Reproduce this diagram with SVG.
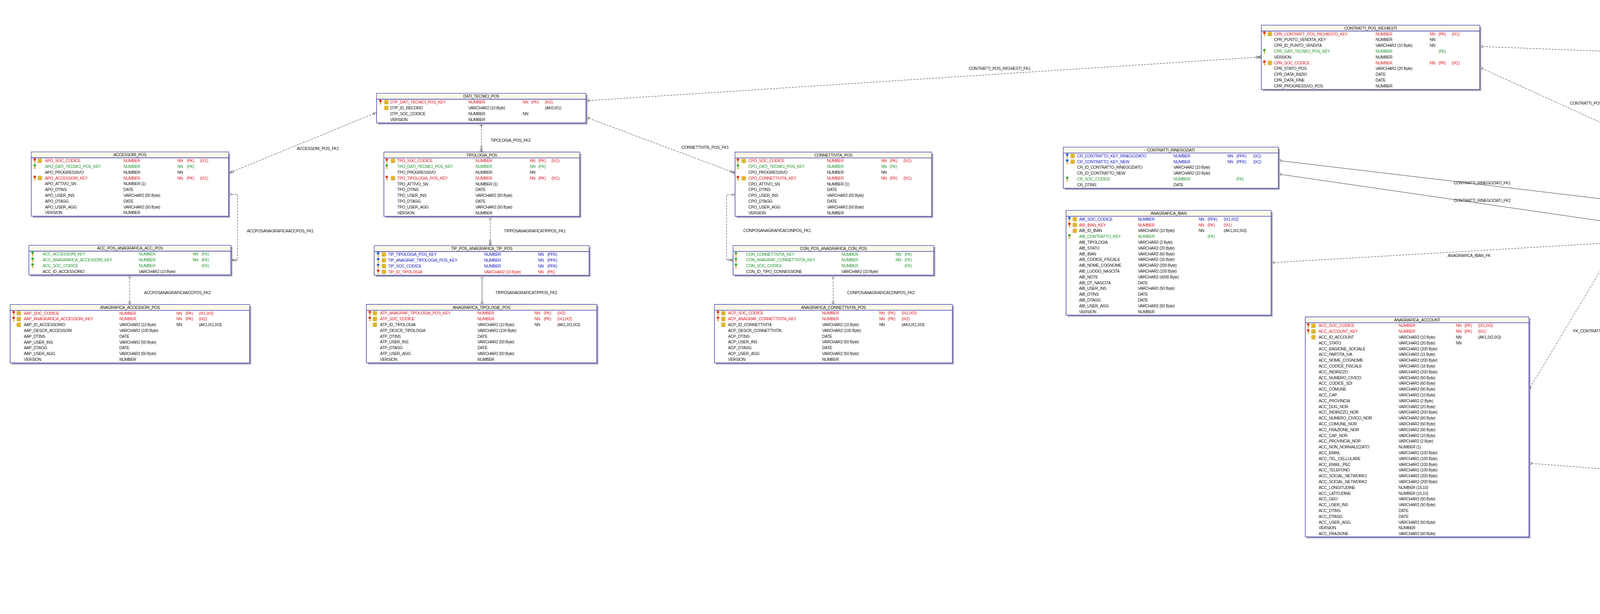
<svg xmlns="http://www.w3.org/2000/svg" width="6168" height="1572" viewBox="0 0 6168 1572">
<defs>
<style>
.t{font-family:"Liberation Sans",Arial,sans-serif;font-size:10.5px;letter-spacing:-0.45px;fill:#1a1a1a}
.m{text-anchor:middle}
.r{fill:#e0232b}.g{fill:#2a9a35}.b{fill:#2323c6}
.bx{fill:#fff;stroke:#25259c;stroke-width:1.3}
.hd{fill:#fbf8e9}
.sh{fill:#a3a3b8}
.ln{stroke:#25259c;stroke-width:1.3;fill:none}
.c{fill:none;stroke:#333;stroke-width:1}
.d{stroke-dasharray:5 3}
</style>
<g id="kr"><path d="M-1.1 -0.5V6.3H1.1V5H2.8V3.6H1.1V-0.5Z" fill="#d4a21c"/><circle cy="-3" r="3.3" fill="#e03a20"/></g>
<g id="kg"><path d="M-1.1 -0.5V6.3H1.1V5H2.8V3.6H1.1V-0.5Z" fill="#d4a21c"/><circle cy="-3" r="3.3" fill="#44ad3c"/></g>
<g id="kb"><path d="M-1.1 -0.5V6.3H1.1V5H2.8V3.6H1.1V-0.5Z" fill="#d4a21c"/><circle cy="-3" r="3.3" fill="#3463d2"/></g>
<g id="ix"><rect x="-5" y="-5" width="10" height="10" rx="1" fill="#f3c63a" stroke="#b58a12" stroke-width=".8"/><path d="M-3 -1.7H3M-3 .7H3M-3 3H3M0 -3.3V4" stroke="#b58a12" stroke-width=".6"/></g>
<marker id="mo" viewBox="-10 -5 11 10" refX="0" refY="0" markerWidth="11" markerHeight="10" markerUnits="userSpaceOnUse" orient="auto-start-reverse"><circle cx="-5" cy="0" r="2.6" fill="#fff" stroke="#333"/></marker>
<marker id="mc" viewBox="-17 -6 18 12" refX="0" refY="0" markerWidth="18" markerHeight="12" markerUnits="userSpaceOnUse" orient="auto-start-reverse"><path d="M-8 0L0 -4.5M-8 0L0 4.5M-8 0H0" fill="none" stroke="#333"/><circle cx="-11" cy="0" r="2.6" fill="#fff" stroke="#333"/></marker>
<marker id="mb" viewBox="-12 -6 13 12" refX="0" refY="0" markerWidth="13" markerHeight="12" markerUnits="userSpaceOnUse" orient="auto-start-reverse"><path d="M-7 -5V5M-11 0H0" stroke="#333" fill="none"/></marker>
</defs>
<rect width="6168" height="1572" fill="#fff"/>

<g id="connectors">
<path class="c d" d="M964 288L585 443.6" marker-start="url(#mb)" marker-end="url(#mc)"/>
<text class="t" x="760" y="384">ACCESSORI_POS_FK1</text>
<path class="c d" d="M585 497.6H608V666H591" marker-start="url(#mo)" marker-end="url(#mc)"/>
<text class="t" x="632" y="595">ACCPOSANAGRAFICAACCPOS_FK1</text>
<path class="c d" d="M332 703.5V779.6" marker-start="url(#mo)" marker-end="url(#mo)"/>
<text class="t" x="368.7" y="752.5">ACCPOSANAGRAFICAACCPOS_FK2</text>
<path class="c d" d="M1232.3 314V389.3" marker-start="url(#mb)" marker-end="url(#mc)"/>
<text class="t" x="1256" y="362.5">TIPOLOGIA_POS_FK2</text>
<path class="c d" d="M1255 553.8V629" marker-start="url(#mo)" marker-end="url(#mc)"/>
<text class="t" x="1290" y="595">TIPPOSANAGRAFICATIPPOS_FK1</text>
<path class="c" d="M1234 704.7V779.3" marker-start="url(#mo)" marker-end="url(#mo)"/>
<text class="t" x="1268.3" y="752.5">TIPPOSANAGRAFICATIPPOS_FK2</text>
<path class="c d" d="M1500 300L1881.7 443" marker-start="url(#mb)" marker-end="url(#mc)"/>
<text class="t" x="1745" y="381">CONNETTIVITA_POS_FK1</text>
<path class="c d" d="M1881.7 498.4H1860V665.6H1876.7" marker-start="url(#mo)" marker-end="url(#mc)"/>
<text class="t" x="1903" y="594">CONPOSANAGRAFICACONPOS_FK1</text>
<path class="c d" d="M2132.8 704.3V779.4" marker-start="url(#mo)" marker-end="url(#mo)"/>
<text class="t" x="2168.6" y="752.5">CONPOSANAGRAFICACONPOS_FK2</text>
<path class="c d" d="M1500 258L3229 146" marker-start="url(#mb)" marker-end="url(#mc)"/>
<text class="t" x="2480" y="179">CONTRATTI_POS_RICHIESTI_FK1</text>
<path class="c d" d="M3788 119L5337.6 178" marker-start="url(#mo)" marker-end="url(#mc)"/>
<text class="t" x="4584" y="159">SERVIZI_POS_FK2</text>
<path class="c d" d="M3788 172.6L4157.5 341" marker-start="url(#mo)" marker-end="url(#mc)"/>
<text class="t" x="4019" y="268">CONTRATTI_POS_RICHIESTI_CONTRATTI_FK1</text>
<path class="c d" d="M4412 379.6V454.8" marker-start="url(#mo)" marker-end="url(#mo)"/>
<text class="t" x="4458.7" y="427.5">CONTRATTI_POS_RICHIESTI_CONTRATTI_FK2</text>
<path class="c" d="M3272.4 410.9L4105.4 509.7" marker-start="url(#mo)" marker-end="url(#mo)"/>
<text class="t" x="3721.7" y="472">CONTRATTI_RINEGOZIATI_FK1</text>
<path class="c" d="M3272.4 445.6L4105.4 566.5" marker-start="url(#mo)" marker-end="url(#mo)"/>
<text class="t" x="3721.7" y="517">CONTRATTI_RINEGOZIATI_FK2</text>
<path class="c d" d="M3254 672.7L4105.4 622.7" marker-start="url(#mo)" marker-end="url(#mo)"/>
<text class="t" x="3706" y="658">ANAGRAFICA_IBAN_FK</text>
<path class="c d" d="M3914 998L4105.4 679" marker-start="url(#mo)" marker-end="url(#mc)"/>
<text class="t" x="4027.5" y="850.5">FK_CONTRATTI</text>
<path class="c d" d="M4412 737.7L4451 811.5" marker-start="url(#mo)" marker-end="url(#mo)"/>
<text class="t" x="4475" y="784">CONTRATTI_EMETTITORI_DICHIARATI_FK1</text>
<path class="c d" d="M4714 886L4947 1050" marker-start="url(#mo)" marker-end="url(#mo)"/>
<text class="t" x="4879" y="972.5">CONTRATTI_EMETTITORI_DICHIARATI_FK2</text>
<path class="c" d="M4718.6 548L5647 683.6" marker-start="url(#mo)" marker-end="url(#mc)"/>
<text class="t" x="5200" y="610">PUNTI_VENDITA_CONTRATTI_FK1</text>
<path class="c d" d="M4718.6 641L5168.6 916.7" marker-start="url(#mo)" marker-end="url(#mc)"/>
<text class="t" x="4955" y="776">CONTRATTI_PV_EMETTITORI_DICHIARATI_FK1</text>
<path class="c d" d="M5370 1030L5199.2 1130" marker-start="url(#mo)" marker-end="url(#mo)"/>
<text class="t" x="5337.6" y="1097">CONTRATTI_PV_EMETTITORI_DICHIARATI_FK2</text>
<path class="c d" d="M5571 1030L5735 1096" marker-start="url(#mo)" marker-end="url(#mc)"/>
<text class="t" x="5700" y="1072.5">CONTRATTI_PV_EMETTITORI_DICHIARATI_FK3</text>
<path class="c d" d="M3914 1186L5540.4 1310" marker-start="url(#mo)" marker-end="url(#mc)"/>
<text class="t" x="4762" y="1258.5">FK1_ANAGRAFICA_PUNTI_VENDITA</text>
<path class="c" d="M5887.6 743.8V1096" marker-start="url(#mc)" marker-end="url(#mo)"/>
<text class="t" x="5900" y="930">PUNTI_VENDITA_CONTRATTI_FK2</text>
<path class="c" d="M5951 176.3H5968V454.7H5946.4" marker-start="url(#mc)" marker-end="url(#mo)"/>
<text class="t" x="5981" y="327.5">SERVIZI_POS_FK</text>
</g>

<g id="t-accessori-pos" transform="translate(80,389)">
<rect class="sh" x="4" y="4" width="505" height="164.5"/><rect class="bx" width="505" height="164.5"/><rect class="hd" x=".7" y=".7" width="503.6" height="14.3"/><path class="ln" d="M0 15H505"/>
<text class="t m" x="252.5" y="11.3">ACCESSORI_POS</text>
<use href="#kr" x="9" y="22.4"/><use href="#ix" x="22" y="22.4"/>
<text class="t r" y="26.1"><tspan x="35">APO_SOC_CODICE</tspan><tspan x="236">NUMBER</tspan><tspan x="374">NN</tspan><tspan x="398">(PK)</tspan><tspan x="432">(IX1)</tspan></text>
<use href="#kg" x="9" y="37.2"/>
<text class="t g" y="40.9"><tspan x="35">APO_DATI_TECNICI_POS_KEY</tspan><tspan x="236">NUMBER</tspan><tspan x="374">NN</tspan><tspan x="398">(FK)</tspan></text>
<text class="t" y="55.7"><tspan x="35">APO_PROGRESSIVO</tspan><tspan x="236">NUMBER</tspan><tspan x="374">NN</tspan></text>
<use href="#kr" x="9" y="66.8"/><use href="#ix" x="22" y="66.8"/>
<text class="t r" y="70.5"><tspan x="35">APO_ACCESSORI_KEY</tspan><tspan x="236">NUMBER</tspan><tspan x="374">NN</tspan><tspan x="398">(PK)</tspan><tspan x="432">(IX1)</tspan></text>
<text class="t" y="85.3"><tspan x="35">APO_ATTIVO_SN</tspan><tspan x="236">NUMBER (1)</tspan></text>
<text class="t" y="100.1"><tspan x="35">APO_DTINS</tspan><tspan x="236">DATE</tspan></text>
<text class="t" y="114.9"><tspan x="35">APO_USER_INS</tspan><tspan x="236">VARCHAR2 (50 Byte)</tspan></text>
<text class="t" y="129.7"><tspan x="35">APO_DTAGG</tspan><tspan x="236">DATE</tspan></text>
<text class="t" y="144.5"><tspan x="35">APO_USER_AGG</tspan><tspan x="236">VARCHAR2 (50 Byte)</tspan></text>
<text class="t" y="159.3"><tspan x="35">VERSION</tspan><tspan x="236">NUMBER</tspan></text>
</g>

<g id="t-acc-pos-anagrafica-acc-pos" transform="translate(74,628)">
<rect class="sh" x="4" y="4" width="517" height="75.7"/><rect class="bx" width="517" height="75.7"/><rect class="hd" x=".7" y=".7" width="515.6" height="14.3"/><path class="ln" d="M0 15H517"/>
<text class="t m" x="258.5" y="11.3">ACC_POS_ANAGRAFICA_ACC_POS</text>
<use href="#kg" x="9.5" y="22.4"/><text class="t g" y="26.1"><tspan x="35">ACC_ACCESSORI_KEY</tspan><tspan x="281">NUMBER</tspan><tspan x="419">NN</tspan><tspan x="442">(FK)</tspan></text>
<use href="#kg" x="9.5" y="37.2"/><text class="t g" y="40.9"><tspan x="35">ACC_ANAGRAFICA_ACCESSORI_KEY</tspan><tspan x="281">NUMBER</tspan><tspan x="419">NN</tspan><tspan x="442">(FK)</tspan></text>
<use href="#kg" x="9.5" y="52"/><text class="t g" y="55.7"><tspan x="35">ACC_SOC_CODICE</tspan><tspan x="281">NUMBER</tspan><tspan x="442">(FK)</tspan></text>
<text class="t" y="70.5"><tspan x="35">ACC_ID_ACCESSORIO</tspan><tspan x="281">VARCHAR2 (10 Byte)</tspan></text>
</g>

<g id="t-anagrafica-accessori-pos" transform="translate(26,779.6)">
<rect class="sh" x="4" y="4" width="613" height="149.7"/><rect class="bx" width="613" height="149.7"/><rect class="hd" x=".7" y=".7" width="611.6" height="14.3"/><path class="ln" d="M0 15H613"/>
<text class="t m" x="306.5" y="11.3">ANAGRAFICA_ACCESSORI_POS</text>
<use href="#kr" x="9" y="22.4"/><use href="#ix" x="22" y="22.4"/>
<text class="t r" y="26.1"><tspan x="35">AAP_SOC_CODICE</tspan><tspan x="279.5">NUMBER</tspan><tspan x="425.6">NN</tspan><tspan x="449">(PK)</tspan><tspan x="483">(IX1,IX2)</tspan></text>
<use href="#kr" x="9" y="37.2"/><use href="#ix" x="22" y="37.2"/>
<text class="t r" y="40.9"><tspan x="35">AAP_ANAGRAFICA_ACCESSORI_KEY</tspan><tspan x="279.5">NUMBER</tspan><tspan x="425.6">NN</tspan><tspan x="449">(PK)</tspan><tspan x="483">(IX2)</tspan></text>
<use href="#ix" x="22" y="52"/>
<text class="t" y="55.7"><tspan x="35">AAP_ID_ACCESSORIO</tspan><tspan x="279.5">VARCHAR2 (10 Byte)</tspan><tspan x="425.6">NN</tspan><tspan x="483">(AK1,IX1,IX3)</tspan></text>
<text class="t" y="70.5"><tspan x="35">AAP_DESCR_ACCESSORI</tspan><tspan x="279.5">VARCHAR2 (100 Byte)</tspan></text>
<text class="t" y="85.3"><tspan x="35">AAP_DTINS</tspan><tspan x="279.5">DATE</tspan></text>
<text class="t" y="100.1"><tspan x="35">AAP_USER_INS</tspan><tspan x="279.5">VARCHAR2 (50 Byte)</tspan></text>
<text class="t" y="114.9"><tspan x="35">AAP_DTAGG</tspan><tspan x="279.5">DATE</tspan></text>
<text class="t" y="129.7"><tspan x="35">AAP_USER_AGG</tspan><tspan x="279.5">VARCHAR2 (50 Byte)</tspan></text>
<text class="t" y="144.5"><tspan x="35">VERSION</tspan><tspan x="279.5">NUMBER</tspan></text>
</g>

<g id="t-dati-tecnici-pos" transform="translate(964,239)">
<rect class="sh" x="4" y="4" width="536" height="75.7"/><rect class="bx" width="536" height="75.7"/><rect class="hd" x=".7" y=".7" width="534.6" height="14.3"/><path class="ln" d="M0 15H536"/>
<text class="t m" x="268" y="11.3">DATI_TECNICI_POS</text>
<use href="#kr" x="10" y="22.4"/><use href="#ix" x="25" y="22.4"/>
<text class="t r" y="26.1"><tspan x="35">DTP_DATI_TECNICI_POS_KEY</tspan><tspan x="235">NUMBER</tspan><tspan x="374">NN</tspan><tspan x="396">(PK)</tspan><tspan x="431">(IX2)</tspan></text>
<use href="#ix" x="25" y="37.2"/>
<text class="t" y="40.9"><tspan x="35">DTP_ID_RECORD</tspan><tspan x="235">VARCHAR2 (10 Byte)</tspan><tspan x="431">(AK0,IX1)</tspan></text>
<text class="t" y="55.7"><tspan x="35">DTP_SOC_CODICE</tspan><tspan x="235">NUMBER</tspan><tspan x="374">NN</tspan></text>
<text class="t" y="70.5"><tspan x="35">VERSION</tspan><tspan x="235">NUMBER</tspan></text>
</g>

<g id="t-tipologia-pos" transform="translate(982.7,389.3)">
<rect class="sh" x="4" y="4" width="501.3" height="164.5"/><rect class="bx" width="501.3" height="164.5"/><rect class="hd" x=".7" y=".7" width="499.9" height="14.3"/><path class="ln" d="M0 15H501.3"/>
<text class="t m" x="250.6" y="11.3">TIPOLOGIA_POS</text>
<use href="#kr" x="7.3" y="22.4"/><use href="#ix" x="23.3" y="22.4"/>
<text class="t r" y="26.1"><tspan x="34">TPO_SOC_CODICE</tspan><tspan x="234.6">NUMBER</tspan><tspan x="373.3">NN</tspan><tspan x="395.3">(PK)</tspan><tspan x="429">(IX1)</tspan></text>
<use href="#kg" x="7.3" y="37.2"/>
<text class="t g" y="40.9"><tspan x="34">TPO_DATI_TECNICI_POS_KEY</tspan><tspan x="234.6">NUMBER</tspan><tspan x="373.3">NN</tspan><tspan x="395.3">(FK)</tspan></text>
<text class="t" y="55.7"><tspan x="34">TPO_PROGRESSIVO</tspan><tspan x="234.6">NUMBER</tspan><tspan x="373.3">NN</tspan></text>
<use href="#kr" x="7.3" y="66.8"/><use href="#ix" x="23.3" y="66.8"/>
<text class="t r" y="70.5"><tspan x="34">TPO_TIPOLOGIA_POS_KEY</tspan><tspan x="234.6">NUMBER</tspan><tspan x="373.3">NN</tspan><tspan x="395.3">(PK)</tspan><tspan x="429">(IX1)</tspan></text>
<text class="t" y="85.3"><tspan x="34">TPO_ATTIVO_SN</tspan><tspan x="234.6">NUMBER (1)</tspan></text>
<text class="t" y="100.1"><tspan x="34">TPO_DTINS</tspan><tspan x="234.6">DATE</tspan></text>
<text class="t" y="114.9"><tspan x="34">TPO_USER_INS</tspan><tspan x="234.6">VARCHAR2 (50 Byte)</tspan></text>
<text class="t" y="129.7"><tspan x="34">TPO_DTAGG</tspan><tspan x="234.6">DATE</tspan></text>
<text class="t" y="144.5"><tspan x="34">TPO_USER_AGG</tspan><tspan x="234.6">VARCHAR2 (50 Byte)</tspan></text>
<text class="t" y="159.3"><tspan x="34">VERSION</tspan><tspan x="234.6">NUMBER</tspan></text>
</g>

<g id="t-tip-pos-anagrafica-tip-pos" transform="translate(958,629)">
<rect class="sh" x="4" y="4" width="550" height="75.7"/><rect class="bx" width="550" height="75.7"/><rect class="hd" x=".7" y=".7" width="548.6" height="14.3"/><path class="ln" d="M0 15H550"/>
<text class="t m" x="275" y="11.3">TIP_POS_ANAGRAFICA_TIP_POS</text>
<use href="#kb" x="10" y="22.4"/><use href="#ix" x="24.7" y="22.4"/>
<text class="t b" y="26.1"><tspan x="35.3">TIP_TIPOLOGIA_POS_KEY</tspan><tspan x="281.3">NUMBER</tspan><tspan x="419.3">NN</tspan><tspan x="443">(PFK)</tspan></text>
<use href="#kb" x="10" y="37.2"/><use href="#ix" x="24.7" y="37.2"/>
<text class="t b" y="40.9"><tspan x="35.3">TIP_ANAGRAF_TIPOLOGIA_POS_KEY</tspan><tspan x="281.3">NUMBER</tspan><tspan x="419.3">NN</tspan><tspan x="443">(PFK)</tspan></text>
<use href="#kb" x="10" y="52"/><use href="#ix" x="24.7" y="52"/>
<text class="t b" y="55.7"><tspan x="35.3">TIP_SOC_CODICE</tspan><tspan x="281.3">NUMBER</tspan><tspan x="419.3">NN</tspan><tspan x="443">(PFK)</tspan></text>
<use href="#kr" x="10" y="66.8"/><use href="#ix" x="24.7" y="66.8"/>
<text class="t r" y="70.5"><tspan x="35.3">TIP_ID_TIPOLOGIA</tspan><tspan x="281.3">VARCHAR2 (10 Byte)</tspan><tspan x="419.3">NN</tspan><tspan x="443">(PK)</tspan></text>
</g>

<g id="t-anagrafica-tipologie-pos" transform="translate(937.7,779.3)">
<rect class="sh" x="4" y="4" width="590" height="149.7"/><rect class="bx" width="590" height="149.7"/><rect class="hd" x=".7" y=".7" width="588.6" height="14.3"/><path class="ln" d="M0 15H590"/>
<text class="t m" x="295" y="11.3">ANAGRAFICA_TIPOLOGIE_POS</text>
<use href="#kr" x="9" y="22.4"/><use href="#ix" x="22" y="22.4"/>
<text class="t r" y="26.1"><tspan x="35">ATP_ANAGRAF_TIPOLOGIA_POS_KEY</tspan><tspan x="284.6">NUMBER</tspan><tspan x="430.6">NN</tspan><tspan x="454">(PK)</tspan><tspan x="489">(IX2)</tspan></text>
<use href="#kr" x="9" y="37.2"/><use href="#ix" x="22" y="37.2"/>
<text class="t r" y="40.9"><tspan x="35">ATP_SOC_CODICE</tspan><tspan x="284.6">NUMBER</tspan><tspan x="430.6">NN</tspan><tspan x="454">(PK)</tspan><tspan x="489">(IX1,IX2)</tspan></text>
<use href="#ix" x="22" y="52"/>
<text class="t" y="55.7"><tspan x="35">ATP_ID_TIPOLOGIA</tspan><tspan x="284.6">VARCHAR2 (10 Byte)</tspan><tspan x="430.6">NN</tspan><tspan x="489">(AK1,IX1,IX3)</tspan></text>
<text class="t" y="70.5"><tspan x="35">ATP_DESCR_TIPOLOGIA</tspan><tspan x="284.6">VARCHAR2 (100 Byte)</tspan></text>
<text class="t" y="85.3"><tspan x="35">ATP_DTINS</tspan><tspan x="284.6">DATE</tspan></text>
<text class="t" y="100.1"><tspan x="35">ATP_USER_INS</tspan><tspan x="284.6">VARCHAR2 (50 Byte)</tspan></text>
<text class="t" y="114.9"><tspan x="35">ATP_DTAGG</tspan><tspan x="284.6">DATE</tspan></text>
<text class="t" y="129.7"><tspan x="35">ATP_USER_AGG</tspan><tspan x="284.6">VARCHAR2 (50 Byte)</tspan></text>
<text class="t" y="144.5"><tspan x="35">VERSION</tspan><tspan x="284.6">NUMBER</tspan></text>
</g>

<g id="t-connettivita-pos" transform="translate(1881.7,389.4)">
<rect class="sh" x="4" y="4" width="503.3" height="164.5"/><rect class="bx" width="503.3" height="164.5"/><rect class="hd" x=".7" y=".7" width="501.9" height="14.3"/><path class="ln" d="M0 15H503.3"/>
<text class="t m" x="251.6" y="11.3">CONNETTIVITA_POS</text>
<use href="#kr" x="7.3" y="22.4"/><use href="#ix" x="22.3" y="22.4"/>
<text class="t r" y="26.1"><tspan x="34.3">CPO_SOC_CODICE</tspan><tspan x="235.3">NUMBER</tspan><tspan x="374">NN</tspan><tspan x="396">(PK)</tspan><tspan x="431">(IX1)</tspan></text>
<use href="#kg" x="7.3" y="37.2"/>
<text class="t g" y="40.9"><tspan x="34.3">CPO_DATI_TECNICI_POS_KEY</tspan><tspan x="235.3">NUMBER</tspan><tspan x="374">NN</tspan><tspan x="396">(FK)</tspan></text>
<text class="t" y="55.7"><tspan x="34.3">CPO_PROGRESSIVO</tspan><tspan x="235.3">NUMBER</tspan><tspan x="374">NN</tspan></text>
<use href="#kr" x="7.3" y="66.8"/><use href="#ix" x="22.3" y="66.8"/>
<text class="t r" y="70.5"><tspan x="34.3">CPO_CONNETTIVITA_KEY</tspan><tspan x="235.3">NUMBER</tspan><tspan x="374">NN</tspan><tspan x="396">(PK)</tspan><tspan x="431">(IX1)</tspan></text>
<text class="t" y="85.3"><tspan x="34.3">CPO_ATTIVO_SN</tspan><tspan x="235.3">NUMBER (1)</tspan></text>
<text class="t" y="100.1"><tspan x="34.3">CPO_DTINS</tspan><tspan x="235.3">DATE</tspan></text>
<text class="t" y="114.9"><tspan x="34.3">CPO_USER_INS</tspan><tspan x="235.3">VARCHAR2 (50 Byte)</tspan></text>
<text class="t" y="129.7"><tspan x="34.3">CPO_DTAGG</tspan><tspan x="235.3">DATE</tspan></text>
<text class="t" y="144.5"><tspan x="34.3">CPO_USER_AGG</tspan><tspan x="235.3">VARCHAR2 (50 Byte)</tspan></text>
<text class="t" y="159.3"><tspan x="34.3">VERSION</tspan><tspan x="235.3">NUMBER</tspan></text>
</g>

<g id="t-con-pos-anagrafica-con-pos" transform="translate(1876.7,628.6)">
<rect class="sh" x="4" y="4" width="513.7" height="75.7"/><rect class="bx" width="513.7" height="75.7"/><rect class="hd" x=".7" y=".7" width="512.3" height="14.3"/><path class="ln" d="M0 15H513.7"/>
<text class="t m" x="256.8" y="11.3">CON_POS_ANAGRAFICA_CON_POS</text>
<use href="#kg" x="7.3" y="22.4"/><text class="t g" y="26.1"><tspan x="33.3">CON_CONNETTIVITA_KEY</tspan><tspan x="277.3">NUMBER</tspan><tspan x="416">NN</tspan><tspan x="438.8">(FK)</tspan></text>
<use href="#kg" x="7.3" y="37.2"/><text class="t g" y="40.9"><tspan x="33.3">CON_ANAGRAF_CONNETTIVITA_KEY</tspan><tspan x="277.3">NUMBER</tspan><tspan x="416">NN</tspan><tspan x="438.8">(FK)</tspan></text>
<use href="#kg" x="7.3" y="52"/><text class="t g" y="55.7"><tspan x="33.3">CON_SOC_CODICE</tspan><tspan x="277.3">NUMBER</tspan><tspan x="438.8">(FK)</tspan></text>
<text class="t" y="70.5"><tspan x="33.3">CON_ID_TIPO_CONNESSIONE</tspan><tspan x="277.3">VARCHAR2 (10 Byte)</tspan></text>
</g>

<g id="t-anagrafica-connettivita-pos" transform="translate(1829,779.4)">
<rect class="sh" x="4" y="4" width="609" height="149.7"/><rect class="bx" width="609" height="149.7"/><rect class="hd" x=".7" y=".7" width="607.6" height="14.3"/><path class="ln" d="M0 15H609"/>
<text class="t m" x="304.5" y="11.3">ANAGRAFICA_CONNETTIVITA_POS</text>
<use href="#kr" x="9" y="22.4"/><use href="#ix" x="22.7" y="22.4"/>
<text class="t r" y="26.1"><tspan x="34.8">ACP_SOC_CODICE</tspan><tspan x="275.5">NUMBER</tspan><tspan x="421.7">NN</tspan><tspan x="443.6">(PK)</tspan><tspan x="479.3">(IX2,IX3)</tspan></text>
<use href="#kr" x="9" y="37.2"/><use href="#ix" x="22.7" y="37.2"/>
<text class="t r" y="40.9"><tspan x="34.8">ACP_ANAGRAF_CONNETTIVITA_KEY</tspan><tspan x="275.5">NUMBER</tspan><tspan x="421.7">NN</tspan><tspan x="443.6">(PK)</tspan><tspan x="479.3">(IX2)</tspan></text>
<use href="#ix" x="22.7" y="52"/>
<text class="t" y="55.7"><tspan x="34.8">ACP_ID_CONNETTIVITA</tspan><tspan x="275.5">VARCHAR2 (10 Byte)</tspan><tspan x="421.7">NN</tspan><tspan x="479.3">(AK0,IX1,IX3)</tspan></text>
<text class="t" y="70.5"><tspan x="34.8">ACP_DESCR_CONNETTIVITA</tspan><tspan x="275.5">VARCHAR2 (100 Byte)</tspan></text>
<text class="t" y="85.3"><tspan x="34.8">ACP_DTINS</tspan><tspan x="275.5">DATE</tspan></text>
<text class="t" y="100.1"><tspan x="34.8">ACP_USER_INS</tspan><tspan x="275.5">VARCHAR2 (50 Byte)</tspan></text>
<text class="t" y="114.9"><tspan x="34.8">ACP_DTAGG</tspan><tspan x="275.5">DATE</tspan></text>
<text class="t" y="129.7"><tspan x="34.8">ACP_USER_AGG</tspan><tspan x="275.5">VARCHAR2 (50 Byte)</tspan></text>
<text class="t" y="144.5"><tspan x="34.8">VERSION</tspan><tspan x="275.5">NUMBER</tspan></text>
</g>

<g id="t-contratti-pos-richiesti" transform="translate(3229,64.5)">
<rect class="sh" x="4" y="4" width="559" height="164.5"/><rect class="bx" width="559" height="164.5"/><rect class="hd" x=".7" y=".7" width="557.6" height="14.3"/><path class="ln" d="M0 15H559"/>
<text class="t m" x="279.5" y="11.3">CONTRATTI_POS_RICHIESTI</text>
<use href="#kr" x="7.8" y="22.4"/><use href="#ix" x="22" y="22.4"/>
<text class="t r" y="26.1"><tspan x="32.3">CPR_CONTRATT_POS_RICHIESTO_KEY</tspan><tspan x="292.6">NUMBER</tspan><tspan x="431">NN</tspan><tspan x="453.5">(PK)</tspan><tspan x="487.3">(IX1)</tspan></text>
<text class="t" y="40.9"><tspan x="32.3">CPR_PUNTO_VENDITA_KEY</tspan><tspan x="292.6">NUMBER</tspan><tspan x="431">NN</tspan></text>
<text class="t" y="55.7"><tspan x="32.3">CPR_ID_PUNTO_VENDITA</tspan><tspan x="292.6">VARCHAR2 (10 Byte)</tspan><tspan x="431">NN</tspan></text>
<use href="#kg" x="7.8" y="66.8"/>
<text class="t g" y="70.5"><tspan x="32.3">CPR_DATI_TECNICI_POS_KEY</tspan><tspan x="292.6">NUMBER</tspan><tspan x="453.5">(FK)</tspan></text>
<text class="t" y="85.3"><tspan x="32.3">VERSION</tspan><tspan x="292.6">NUMBER</tspan></text>
<use href="#kr" x="7.8" y="96.4"/><use href="#ix" x="22" y="96.4"/>
<text class="t r" y="100.1"><tspan x="32.3">CPR_SOC_CODICE</tspan><tspan x="292.6">NUMBER</tspan><tspan x="431">NN</tspan><tspan x="453.5">(PK)</tspan><tspan x="487.3">(IX1)</tspan></text>
<text class="t" y="114.9"><tspan x="32.3">CPR_STATO_POS</tspan><tspan x="292.6">VARCHAR2 (20 Byte)</tspan></text>
<text class="t" y="129.7"><tspan x="32.3">CPR_DATA_INIZIO</tspan><tspan x="292.6">DATE</tspan></text>
<text class="t" y="144.5"><tspan x="32.3">CPR_DATA_FINE</tspan><tspan x="292.6">DATE</tspan></text>
<text class="t" y="159.3"><tspan x="32.3">CPR_PROGRESSIVO_POS</tspan><tspan x="292.6">NUMBER</tspan></text>
</g>

<g id="t-contratti-pos-richiesti-contratti" transform="translate(4157.5,303.9)">
<rect class="sh" x="4" y="4" width="509.7" height="75.7"/><rect class="bx" width="509.7" height="75.7"/><rect class="hd" x=".7" y=".7" width="508.3" height="14.3"/><path class="ln" d="M0 15H509.7"/>
<text class="t m" x="254.8" y="11.3">CONTRATTI_POS_RICHIESTI_CONTRATTI</text>
<use href="#kg" x="8.5" y="22.4"/><text class="t g" y="26.1"><tspan x="33.5">CPRC_POS_RICHIESTO_KEY</tspan><tspan x="222.5">NUMBER</tspan><tspan x="360.3">NN</tspan><tspan x="385.2">(FK)</tspan></text>
<use href="#kg" x="8.5" y="37.2"/><text class="t g" y="40.9"><tspan x="33.5">CPRC_CONTRATTO_KEY</tspan><tspan x="222.5">NUMBER</tspan><tspan x="360.3">NN</tspan><tspan x="385.2">(FK)</tspan></text>
<use href="#kg" x="8.5" y="52"/><text class="t g" y="55.7"><tspan x="33.5">CPRC_SOC_CODICE</tspan><tspan x="222.5">NUMBER</tspan><tspan x="360.3">NN</tspan><tspan x="385.2">(FK)</tspan></text>
<text class="t" y="70.5"><tspan x="33.5">CPRC_ID_CONTRATTO</tspan><tspan x="222.5">VARCHAR2 (10 Byte)</tspan><tspan x="360.3">NN</tspan></text>
</g>

<g id="t-contratti" transform="translate(4105.4,454.8)">
<rect class="sh" x="4" y="4" width="613.2" height="282.9"/><rect class="bx" width="613.2" height="282.9"/><rect class="hd" x=".7" y=".7" width="611.8" height="14.3"/><path class="ln" d="M0 15H613.2"/>
<text class="t m" x="306.6" y="11.3">CONTRATTI</text>
<use href="#kb" x="9.3" y="22.4"/><use href="#ix" x="23.3" y="22.4"/>
<text class="t b" y="26.1"><tspan x="34.2">CTR_SOC_CODICE</tspan><tspan x="249.8">NUMBER</tspan><tspan x="396.9">NN</tspan><tspan x="420.2">(PFK)</tspan><tspan x="462.2">(AK2,IX2,IX3)</tspan></text>
<use href="#kr" x="9.3" y="37.2"/><use href="#ix" x="23.3" y="37.2"/>
<text class="t r" y="40.9"><tspan x="34.2">CTR_CONTRATTO_KEY</tspan><tspan x="249.8">NUMBER</tspan><tspan x="396.9">NN</tspan><tspan x="420.2">(PK)</tspan><tspan x="462.2">(IX2)</tspan></text>
<use href="#ix" x="23.3" y="52"/>
<text class="t" y="55.7"><tspan x="34.2">CTR_ID_CONTRATTO</tspan><tspan x="249.8">VARCHAR2 (10 Byte)</tspan><tspan x="396.9">NN</tspan><tspan x="462.2">(AK0,AK2,IX1,IX3)</tspan></text>
<use href="#kg" x="9.3" y="66.8"/>
<text class="t g" y="70.5"><tspan x="34.2">CTR_ACCOUNT_KEY</tspan><tspan x="249.8">NUMBER</tspan><tspan x="420.2">(FK)</tspan></text>
<text class="t" y="85.3"><tspan x="34.2">CTR_DESCR_CONTRATTO</tspan><tspan x="249.8">VARCHAR2 (100 Byte)</tspan></text>
<text class="t" y="100.1"><tspan x="34.2">CTR_STATO</tspan><tspan x="249.8">VARCHAR2 (20 Byte)</tspan><tspan x="396.9">NN</tspan></text>
<text class="t" y="114.9"><tspan x="34.2">CTR_REVISIONE</tspan><tspan x="249.8">VARCHAR2 (100 Byte)</tspan></text>
<text class="t" y="129.7"><tspan x="34.2">CTR_DATA_STIPULA</tspan><tspan x="249.8">DATE</tspan><tspan x="396.9">NN</tspan></text>
<text class="t" y="144.5"><tspan x="34.2">CTR_DT_INIZ_VALIDITA</tspan><tspan x="249.8">DATE</tspan><tspan x="396.9">NN</tspan></text>
<text class="t" y="159.3"><tspan x="34.2">CTR_DT_FINE_VALIDITA</tspan><tspan x="249.8">DATE</tspan></text>
<text class="t" y="174.1"><tspan x="34.2">CTR_CODICE_COLLABORATORE</tspan><tspan x="249.8">VARCHAR2 (50 Byte)</tspan></text>
<text class="t" y="188.9"><tspan x="34.2">CTR_COMMESSA</tspan><tspan x="249.8">VARCHAR2 (500 Byte)</tspan></text>
<text class="t" y="203.7"><tspan x="34.2">CTR_DTINS</tspan><tspan x="249.8">DATE</tspan><tspan x="396.9">NN</tspan></text>
<text class="t" y="218.5"><tspan x="34.2">CTR_USER_INS</tspan><tspan x="249.8">VARCHAR2 (50 Byte)</tspan><tspan x="396.9">NN</tspan></text>
<text class="t" y="233.3"><tspan x="34.2">CTR_DTAGG</tspan><tspan x="249.8">DATE</tspan></text>
<text class="t" y="248.1"><tspan x="34.2">CTR_USER_AGG</tspan><tspan x="249.8">VARCHAR2 (50 Byte)</tspan></text>
<text class="t" y="262.9"><tspan x="34.2">VERSION</tspan><tspan x="249.8">NUMBER</tspan></text>
<text class="t" y="277.7"><tspan x="34.2">CTR_CONTRATTO_KEY_NEW</tspan><tspan x="249.8">NUMBER</tspan></text>
</g>

<g id="t-old-contratti-emettitori-dichiarati" transform="translate(4188,811.5)">
<rect class="sh" x="4" y="4" width="526" height="149.7"/><rect class="bx" width="526" height="149.7"/><rect class="hd" x=".7" y=".7" width="524.6" height="14.3"/><path class="ln" d="M0 15H526"/>
<text class="t m" x="263" y="11.3">OLD_CONTRATTI_EMETTITORI_DICHIARATI</text>
<use href="#kg" x="8.4" y="22.4"/><text class="t g" y="26.1"><tspan x="33.3">CED_SOC_CODICE</tspan><tspan x="189">NUMBER</tspan><tspan x="329">(FK)</tspan></text>
<use href="#kg" x="8.4" y="37.2"/><text class="t g" y="40.9"><tspan x="33.3">CED_CONTRATTO_KEY</tspan><tspan x="189">NUMBER</tspan><tspan x="329">(FK)</tspan></text>
<use href="#kg" x="8.4" y="52"/><text class="t g" y="55.7"><tspan x="33.3">CED_EMETTITORE_KEY</tspan><tspan x="189">NUMBER</tspan><tspan x="329">(FK)</tspan></text>
<text class="t" y="70.5"><tspan x="33.3">CED_ID_CONTRATTO</tspan><tspan x="189">VARCHAR2 (10 Byte)</tspan></text>
<text class="t" y="85.3"><tspan x="33.3">CED_ID_EMETTITORE</tspan><tspan x="189">VARCHAR2 (10 Byte)</tspan></text>
<text class="t" y="100.1"><tspan x="33.3">CED_DTINS</tspan><tspan x="189">DATE</tspan></text>
<text class="t" y="114.9"><tspan x="33.3">CED_USERINS</tspan><tspan x="189">VARCHAR2 (20 Byte)</tspan></text>
<text class="t" y="129.7"><tspan x="33.3">CED_DTAGG</tspan><tspan x="189">DATE</tspan></text>
<text class="t" y="144.5"><tspan x="33.3">CED_USERAGG</tspan><tspan x="189">VARCHAR2 (20 Byte)</tspan></text>
</g>

<g id="t-anagrafica-account" transform="translate(3341.5,811.4)">
<rect class="sh" x="4" y="4" width="572.5" height="563.1"/><rect class="bx" width="572.5" height="563.1"/><rect class="hd" x=".7" y=".7" width="571.1" height="14.3"/><path class="ln" d="M0 15H572.5"/>
<text class="t m" x="286.2" y="11.3">ANAGRAFICA_ACCOUNT</text>
<use href="#kr" x="7.5" y="22.4"/><use href="#ix" x="21" y="22.4"/>
<text class="t r" y="26.1"><tspan x="34.3">ACC_SOC_CODICE</tspan><tspan x="238.8">NUMBER</tspan><tspan x="385.5">NN</tspan><tspan x="407.5">(PK)</tspan><tspan x="442.5">(IX1,IX3)</tspan></text>
<use href="#kr" x="7.5" y="37.2"/><use href="#ix" x="21" y="37.2"/>
<text class="t r" y="40.9"><tspan x="34.3">ACC_ACCOUNT_KEY</tspan><tspan x="238.8">NUMBER</tspan><tspan x="385.5">NN</tspan><tspan x="407.5">(PK)</tspan><tspan x="442.5">(IX1)</tspan></text>
<use href="#ix" x="21" y="52"/>
<text class="t" y="55.7"><tspan x="34.3">ACC_ID_ACCOUNT</tspan><tspan x="238.8">VARCHAR2 (10 Byte)</tspan><tspan x="385.5">NN</tspan><tspan x="442.5">(AK1,IX2,IX3)</tspan></text>
<text class="t" y="70.5"><tspan x="34.3">ACC_STATO</tspan><tspan x="238.8">VARCHAR2 (20 Byte)</tspan><tspan x="385.5">NN</tspan></text>
<text class="t" y="85.3"><tspan x="34.3">ACC_RAGIONE_SOCIALE</tspan><tspan x="238.8">VARCHAR2 (200 Byte)</tspan></text>
<text class="t" y="100.1"><tspan x="34.3">ACC_PARTITA_IVA</tspan><tspan x="238.8">VARCHAR2 (11 Byte)</tspan></text>
<text class="t" y="114.9"><tspan x="34.3">ACC_NOME_COGNOME</tspan><tspan x="238.8">VARCHAR2 (200 Byte)</tspan></text>
<text class="t" y="129.7"><tspan x="34.3">ACC_CODICE_FISCALE</tspan><tspan x="238.8">VARCHAR2 (16 Byte)</tspan></text>
<text class="t" y="144.5"><tspan x="34.3">ACC_INDIRIZZO</tspan><tspan x="238.8">VARCHAR2 (200 Byte)</tspan></text>
<text class="t" y="159.3"><tspan x="34.3">ACC_NUMERO_CIVICO</tspan><tspan x="238.8">VARCHAR2 (60 Byte)</tspan></text>
<text class="t" y="174.1"><tspan x="34.3">ACC_CODICE_SDI</tspan><tspan x="238.8">VARCHAR2 (60 Byte)</tspan></text>
<text class="t" y="188.9"><tspan x="34.3">ACC_COMUNE</tspan><tspan x="238.8">VARCHAR2 (60 Byte)</tspan></text>
<text class="t" y="203.7"><tspan x="34.3">ACC_CAP</tspan><tspan x="238.8">VARCHAR2 (10 Byte)</tspan></text>
<text class="t" y="218.5"><tspan x="34.3">ACC_PROVINCIA</tspan><tspan x="238.8">VARCHAR2 (2 Byte)</tspan></text>
<text class="t" y="233.3"><tspan x="34.3">ACC_DUG_NOR</tspan><tspan x="238.8">VARCHAR2 (20 Byte)</tspan></text>
<text class="t" y="248.1"><tspan x="34.3">ACC_INDIRIZZO_NOR</tspan><tspan x="238.8">VARCHAR2 (200 Byte)</tspan></text>
<text class="t" y="262.9"><tspan x="34.3">ACC_NUMERO_CIVICO_NOR</tspan><tspan x="238.8">VARCHAR2 (60 Byte)</tspan></text>
<text class="t" y="277.7"><tspan x="34.3">ACC_COMUNE_NOR</tspan><tspan x="238.8">VARCHAR2 (60 Byte)</tspan></text>
<text class="t" y="292.5"><tspan x="34.3">ACC_FRAZIONE_NOR</tspan><tspan x="238.8">VARCHAR2 (60 Byte)</tspan></text>
<text class="t" y="307.3"><tspan x="34.3">ACC_CAP_NOR</tspan><tspan x="238.8">VARCHAR2 (10 Byte)</tspan></text>
<text class="t" y="322.1"><tspan x="34.3">ACC_PROVINCIA_NOR</tspan><tspan x="238.8">VARCHAR2 (2 Byte)</tspan></text>
<text class="t" y="336.9"><tspan x="34.3">ACC_NON_NORMALIZZATO</tspan><tspan x="238.8">NUMBER (1)</tspan></text>
<text class="t" y="351.7"><tspan x="34.3">ACC_EMAIL</tspan><tspan x="238.8">VARCHAR2 (100 Byte)</tspan></text>
<text class="t" y="366.5"><tspan x="34.3">ACC_TEL_CELLULARE</tspan><tspan x="238.8">VARCHAR2 (100 Byte)</tspan></text>
<text class="t" y="381.3"><tspan x="34.3">ACC_EMAIL_PEC</tspan><tspan x="238.8">VARCHAR2 (100 Byte)</tspan></text>
<text class="t" y="396.1"><tspan x="34.3">ACC_TELEFONO</tspan><tspan x="238.8">VARCHAR2 (100 Byte)</tspan></text>
<text class="t" y="410.9"><tspan x="34.3">ACC_SOCIAL_NETWORK1</tspan><tspan x="238.8">VARCHAR2 (200 Byte)</tspan></text>
<text class="t" y="425.7"><tspan x="34.3">ACC_SOCIAL_NETWORK2</tspan><tspan x="238.8">VARCHAR2 (200 Byte)</tspan></text>
<text class="t" y="440.5"><tspan x="34.3">ACC_LONGITUDINE</tspan><tspan x="238.8">NUMBER (15,10)</tspan></text>
<text class="t" y="455.3"><tspan x="34.3">ACC_LATITUDINE</tspan><tspan x="238.8">NUMBER (15,10)</tspan></text>
<text class="t" y="470.1"><tspan x="34.3">ACC_GEO</tspan><tspan x="238.8">VARCHAR2 (50 Byte)</tspan></text>
<text class="t" y="484.9"><tspan x="34.3">ACC_USER_INS</tspan><tspan x="238.8">VARCHAR2 (50 Byte)</tspan></text>
<text class="t" y="499.7"><tspan x="34.3">ACC_DTINS</tspan><tspan x="238.8">DATE</tspan></text>
<text class="t" y="514.5"><tspan x="34.3">ACC_DTAGG</tspan><tspan x="238.8">DATE</tspan></text>
<text class="t" y="529.3"><tspan x="34.3">ACC_USER_AGG</tspan><tspan x="238.8">VARCHAR2 (50 Byte)</tspan></text>
<text class="t" y="544.1"><tspan x="34.3">VERSION</tspan><tspan x="238.8">NUMBER</tspan></text>
<text class="t" y="558.9"><tspan x="34.3">ACC_FRAZIONE</tspan><tspan x="238.8">VARCHAR2 (60 Byte)</tspan></text>
</g>

<g id="t-contratti-rinegoziati" transform="translate(2722,376.7)">
<rect class="sh" x="4" y="4" width="550.4" height="105.3"/><rect class="bx" width="550.4" height="105.3"/><rect class="hd" x=".7" y=".7" width="549" height="14.3"/><path class="ln" d="M0 15H550.4"/>
<text class="t m" x="275.2" y="11.3">CONTRATTI_RINEGOZIATI</text>
<use href="#kb" x="10" y="22.4"/><use href="#ix" x="24" y="22.4"/>
<text class="t b" y="26.1"><tspan x="35.3">CR_CONTRATTO_KEY_RINEGOZIATO</tspan><tspan x="282">NUMBER</tspan><tspan x="420">NN</tspan><tspan x="443">(PFK)</tspan><tspan x="486">(IX1)</tspan></text>
<use href="#kb" x="10" y="37.2"/><use href="#ix" x="24" y="37.2"/>
<text class="t b" y="40.9"><tspan x="35.3">CR_CONTRATTO_KEY_NEW</tspan><tspan x="282">NUMBER</tspan><tspan x="420">NN</tspan><tspan x="443">(PFK)</tspan><tspan x="486">(IX1)</tspan></text>
<text class="t" y="55.7"><tspan x="35.3">CR_ID_CONTRATTO_RINEGOZIATO</tspan><tspan x="282">VARCHAR2 (10 Byte)</tspan></text>
<text class="t" y="70.5"><tspan x="35.3">CR_ID_CONTRATTO_NEW</tspan><tspan x="282">VARCHAR2 (10 Byte)</tspan></text>
<use href="#kg" x="10" y="81.6"/>
<text class="t g" y="85.3"><tspan x="35.3">CR_SOC_CODICE</tspan><tspan x="282">NUMBER</tspan><tspan x="443">(FK)</tspan></text>
<text class="t" y="100.1"><tspan x="35.3">CR_DTINS</tspan><tspan x="282">DATE</tspan></text>
</g>

<g id="t-anagrafica-iban" transform="translate(2729.2,538.7)">
<rect class="sh" x="4" y="4" width="524.8" height="268.1"/><rect class="bx" width="524.8" height="268.1"/><rect class="hd" x=".7" y=".7" width="523.4" height="14.3"/><path class="ln" d="M0 15H524.8"/>
<text class="t m" x="262.4" y="11.3">ANAGRAFICA_IBAN</text>
<use href="#kb" x="8.4" y="22.4"/><use href="#ix" x="22.3" y="22.4"/>
<text class="t b" y="26.1"><tspan x="33">AIB_SOC_CODICE</tspan><tspan x="183.7">NUMBER</tspan><tspan x="339.2">NN</tspan><tspan x="361.8">(PFK)</tspan><tspan x="403.5">(IX1,IX2)</tspan></text>
<use href="#kr" x="8.4" y="37.2"/><use href="#ix" x="22.3" y="37.2"/>
<text class="t r" y="40.9"><tspan x="33">AIB_IBAN_KEY</tspan><tspan x="183.7">NUMBER</tspan><tspan x="339.2">NN</tspan><tspan x="361.8">(PK)</tspan><tspan x="403.5">(IX1)</tspan></text>
<use href="#ix" x="22.3" y="52"/>
<text class="t" y="55.7"><tspan x="33">AIB_ID_IBAN</tspan><tspan x="183.7">VARCHAR2 (10 Byte)</tspan><tspan x="339.2">NN</tspan><tspan x="403.5">(AK1,IX2,IX3)</tspan></text>
<use href="#kg" x="8.4" y="66.8"/>
<text class="t g" y="70.5"><tspan x="33">AIB_CONTRATTO_KEY</tspan><tspan x="183.7">NUMBER</tspan><tspan x="361.8">(FK)</tspan></text>
<text class="t" y="85.3"><tspan x="33">AIB_TIPOLOGIA</tspan><tspan x="183.7">VARCHAR2 (2 Byte)</tspan></text>
<text class="t" y="100.1"><tspan x="33">AIB_STATO</tspan><tspan x="183.7">VARCHAR2 (20 Byte)</tspan></text>
<text class="t" y="114.9"><tspan x="33">AIB_IBAN</tspan><tspan x="183.7">VARCHAR2 (60 Byte)</tspan></text>
<text class="t" y="129.7"><tspan x="33">AIB_CODICE_FISCALE</tspan><tspan x="183.7">VARCHAR2 (16 Byte)</tspan></text>
<text class="t" y="144.5"><tspan x="33">AIB_NOME_COGNOME</tspan><tspan x="183.7">VARCHAR2 (200 Byte)</tspan></text>
<text class="t" y="159.3"><tspan x="33">AIB_LUOGO_NASCITA</tspan><tspan x="183.7">VARCHAR2 (100 Byte)</tspan></text>
<text class="t" y="174.1"><tspan x="33">AIB_NOTE</tspan><tspan x="183.7">VARCHAR2 (4000 Byte)</tspan></text>
<text class="t" y="188.9"><tspan x="33">AIB_DT_NASCITA</tspan><tspan x="183.7">DATE</tspan></text>
<text class="t" y="203.7"><tspan x="33">AIB_USER_INS</tspan><tspan x="183.7">VARCHAR2 (50 Byte)</tspan></text>
<text class="t" y="218.5"><tspan x="33">AIB_DTINS</tspan><tspan x="183.7">DATE</tspan></text>
<text class="t" y="233.3"><tspan x="33">AIB_DTAGG</tspan><tspan x="183.7">DATE</tspan></text>
<text class="t" y="248.1"><tspan x="33">AIB_USER_AGG</tspan><tspan x="183.7">VARCHAR2 (50 Byte)</tspan></text>
<text class="t" y="262.9"><tspan x="33">VERSION</tspan><tspan x="183.7">NUMBER</tspan></text>
</g>

<g id="t-servizi-pos" transform="translate(5337.6,50.3)">
<rect class="sh" x="4" y="4" width="613.4" height="253.3" rx="6"/><rect class="bx" width="613.4" height="253.3" rx="6"/><rect class="hd" x=".7" y=".7" width="612" height="14.3" rx="5"/><path class="ln" d="M0 15H613.4"/>
<text class="t m" x="306.7" y="11.3">SERVIZI_POS</text>
<use href="#kb" x="8" y="22.4"/><use href="#ix" x="22" y="22.4"/>
<text class="t b" y="26.1"><tspan x="35">SPO_SOC_CODICE</tspan><tspan x="289.7">NUMBER</tspan><tspan x="427.4">NN</tspan><tspan x="450.4">(PFK)</tspan><tspan x="491.7">(AK0,IX1,IX2)</tspan></text>
<use href="#kr" x="8" y="37.2"/><use href="#ix" x="22" y="37.2"/>
<text class="t r" y="40.9"><tspan x="35">SPO_SERVIZIO_POS_KEY</tspan><tspan x="289.7">NUMBER</tspan><tspan x="427.4">NN</tspan><tspan x="450.4">(PK)</tspan><tspan x="491.7">(AK0,IX1,IX2)</tspan></text>
<text class="t" y="55.7"><tspan x="35">SPO_ID_SERVIZIO</tspan><tspan x="289.7">VARCHAR2 (10 Byte)</tspan></text>
<use href="#kr" x="8" y="66.8"/><use href="#ix" x="22" y="66.8"/>
<text class="t r" y="70.5"><tspan x="35">SPO_PROGRESSIVO_POS</tspan><tspan x="289.7">NUMBER</tspan><tspan x="427.4">NN</tspan><tspan x="450.4">(PK)</tspan><tspan x="491.7">(IX2)</tspan></text>
<use href="#kb" x="8" y="81.6"/><use href="#ix" x="22" y="81.6"/>
<text class="t b" y="85.3"><tspan x="35">SPO_ANAGRAFICA_SERVIZIO_KEY</tspan><tspan x="289.7">NUMBER</tspan><tspan x="427.4">NN</tspan><tspan x="450.4">(PFK)</tspan><tspan x="491.7">(AK0,IX1,IX2)</tspan></text>
<text class="t" y="100.1"><tspan x="35">SPO_VALORE_PERCENTUALE</tspan><tspan x="289.7">NUMBER</tspan></text>
<text class="t" y="114.9"><tspan x="35">SPO_VALORE_UNITARIO</tspan><tspan x="289.7">NUMBER</tspan></text>
<text class="t" y="129.7"><tspan x="35">SPO_STATO</tspan><tspan x="289.7">VARCHAR2 (20 Byte)</tspan></text>
<text class="t" y="144.5"><tspan x="35">SPO_DATA_INIZIO_VALIDITA</tspan><tspan x="289.7">DATE</tspan></text>
<text class="t" y="159.3"><tspan x="35">SPO_DATA_FINE_VALIDITA</tspan><tspan x="289.7">DATE</tspan></text>
<text class="t" y="174.1"><tspan x="35">SPO_DTINS</tspan><tspan x="289.7">DATE</tspan></text>
<text class="t" y="188.9"><tspan x="35">SPO_USER_INS</tspan><tspan x="289.7">VARCHAR2 (50 Byte)</tspan></text>
<text class="t" y="203.7"><tspan x="35">SPO_DTAGG</tspan><tspan x="289.7">DATE</tspan></text>
<text class="t" y="218.5"><tspan x="35">SPO_USER_AGG</tspan><tspan x="289.7">VARCHAR2 (50 Byte)</tspan></text>
<text class="t" y="233.3"><tspan x="35">VERSION</tspan><tspan x="289.7">NUMBER</tspan></text>
<use href="#kg" x="8" y="244.4"/>
<text class="t g" y="248.1"><tspan x="35">SPO_CONTRATT_POS_RICHIESTO_KEY</tspan><tspan x="289.7">NUMBER</tspan><tspan x="450.4">(FK)</tspan><tspan x="491.7">(AK0,IX1)</tspan></text>
</g>

<g id="t-anagrafica-servizi" transform="translate(5342,353.3)">
<rect class="sh" x="4" y="4" width="604.4" height="208.9"/><rect class="bx" width="604.4" height="208.9"/><rect class="hd" x=".7" y=".7" width="603" height="14.3"/><path class="ln" d="M0 15H604.4"/>
<text class="t m" x="302.2" y="11.3">ANAGRAFICA_SERVIZI</text>
<use href="#kr" x="8" y="22.4"/><use href="#ix" x="22" y="22.4"/>
<text class="t r" y="26.1"><tspan x="35">ASE_SOC_CODICE</tspan><tspan x="242.6">NUMBER</tspan><tspan x="388.6">NN</tspan><tspan x="411.5">(PK)</tspan><tspan x="445">(AK0,IX1,IX2)</tspan></text>
<use href="#kr" x="8" y="37.2"/><use href="#ix" x="22" y="37.2"/>
<text class="t r" y="40.9"><tspan x="35">ASE_SERVIZIO_KEY</tspan><tspan x="242.6">NUMBER</tspan><tspan x="388.6">NN</tspan><tspan x="411.5">(PK)</tspan><tspan x="445">(IX2)</tspan></text>
<use href="#ix" x="22" y="52"/>
<text class="t" y="55.7"><tspan x="35">ASE_ID_SERVIZIO</tspan><tspan x="242.6">VARCHAR2 (10 Byte)</tspan><tspan x="445">(AK0,AK2,IX1,IX3)</tspan></text>
<text class="t" y="70.5"><tspan x="35">ASE_DESCR_SERVIZIO</tspan><tspan x="242.6">VARCHAR2 (100 Byte)</tspan></text>
<text class="t" y="85.3"><tspan x="35">ASE_FLAG_IMPORTO_UNITARIO</tspan><tspan x="242.6">VARCHAR2 (1 Byte)</tspan></text>
<text class="t" y="100.1"><tspan x="35">ASE_FLAG_IMPORTO_PERC</tspan><tspan x="242.6">VARCHAR2 (1 Byte)</tspan></text>
<text class="t" y="114.9"><tspan x="35">ASE_DT_INIZ_VALIDITA</tspan><tspan x="242.6">DATE</tspan></text>
<text class="t" y="129.7"><tspan x="35">ASE_DT_FINE_VALIDITA</tspan><tspan x="242.6">DATE</tspan></text>
<text class="t" y="144.5"><tspan x="35">ASE_DTINS</tspan><tspan x="242.6">DATE</tspan></text>
<text class="t" y="159.3"><tspan x="35">ASE_USER_INS</tspan><tspan x="242.6">VARCHAR2 (50 Byte)</tspan></text>
<text class="t" y="174.1"><tspan x="35">ASE_DTAGG</tspan><tspan x="242.6">DATE</tspan></text>
<text class="t" y="188.9"><tspan x="35">ASE_USER_AGG</tspan><tspan x="242.6">VARCHAR2 (50 Byte)</tspan></text>
<text class="t" y="203.7"><tspan x="35">VERSION</tspan><tspan x="242.6">NUMBER</tspan></text>
</g>

<g id="t-punti-vendita-contratti" transform="translate(5647,623.7)">
<rect class="sh" x="4" y="4" width="481" height="120.1"/><rect class="bx" width="481" height="120.1"/><rect class="hd" x=".7" y=".7" width="479.6" height="14.3"/><path class="ln" d="M0 15H481"/>
<text class="t m" x="240.5" y="11.3">PUNTI_VENDITA_CONTRATTI</text>
<use href="#kb" x="7.8" y="22.4"/><use href="#ix" x="23" y="22.4"/>
<text class="t b" y="26.1"><tspan x="33">PVC_PUNTO_VENDITA_KEY</tspan><tspan x="215.3">NUMBER</tspan><tspan x="353.5">NN</tspan><tspan x="376.5">(PFK)</tspan><tspan x="418.7">(IX1)</tspan></text>
<use href="#kb" x="7.8" y="37.2"/><use href="#ix" x="23" y="37.2"/>
<text class="t b" y="40.9"><tspan x="33">PVC_CONTRATTO_KEY</tspan><tspan x="215.3">NUMBER</tspan><tspan x="353.5">NN</tspan><tspan x="376.5">(PFK)</tspan><tspan x="418.7">(IX1)</tspan></text>
<text class="t" y="55.7"><tspan x="33">PVC_DTINS</tspan><tspan x="215.3">DATE</tspan></text>
<text class="t" y="70.5"><tspan x="33">PVC_USER_INS</tspan><tspan x="215.3">VARCHAR2 (50 Byte)</tspan></text>
<text class="t" y="85.3"><tspan x="33">PVC_DTAGG</tspan><tspan x="215.3">DATE</tspan></text>
<text class="t" y="100.1"><tspan x="33">PVC_USER_AGG</tspan><tspan x="215.3">VARCHAR2 (50 Byte)</tspan></text>
<use href="#kg" x="7.8" y="111.2"/>
<text class="t g" y="114.9"><tspan x="33">PVC_SOC_CODICE</tspan><tspan x="215.3">NUMBER</tspan><tspan x="376.5">(FK)</tspan></text>
</g>

<g id="t-contratti-pv-emettitori-dichiarati" transform="translate(5168.6,806)">
<rect class="sh" x="4" y="4" width="560" height="223.7"/><rect class="bx" width="560" height="223.7"/><rect class="hd" x=".7" y=".7" width="558.6" height="14.3"/><path class="ln" d="M0 15H560"/>
<text class="t m" x="280" y="11.3">CONTRATTI_PV_EMETTITORI_DICHIARATI</text>
<use href="#kr" x="7" y="22.4"/><use href="#ix" x="22.4" y="22.4"/>
<text class="t r" y="26.1"><tspan x="32.4">CED_CONTRATTO_EMETTITORE_KEY</tspan><tspan x="281.4">NUMBER</tspan><tspan x="419.4">NN</tspan><tspan x="442">(PK)</tspan><tspan x="486.4">(IX1)</tspan></text>
<use href="#kb" x="7" y="37.2"/><use href="#ix" x="22.4" y="37.2"/>
<text class="t b" y="40.9"><tspan x="32.4">CED_SOC_CODICE</tspan><tspan x="281.4">NUMBER</tspan><tspan x="419.4">NN</tspan><tspan x="442">(PFK)</tspan><tspan x="486.4">(AK0,IX1)</tspan></text>
<use href="#kg" x="7" y="52"/>
<text class="t g" y="55.7"><tspan x="32.4">CED_CONTRATTO_KEY</tspan><tspan x="281.4">NUMBER</tspan><tspan x="442">(FK)</tspan></text>
<use href="#kg" x="7" y="66.8"/>
<text class="t g" y="70.5"><tspan x="32.4">CED_EMETTITORE_KEY</tspan><tspan x="281.4">NUMBER</tspan><tspan x="442">(FK)</tspan></text>
<use href="#kg" x="7" y="81.6"/><use href="#ix" x="22.4" y="81.6"/>
<text class="t g" y="85.3"><tspan x="32.4">CED_PV_KEY</tspan><tspan x="281.4">NUMBER</tspan><tspan x="442">(FK)</tspan><tspan x="486.4">(AK0,IX1)</tspan></text>
<text class="t" y="100.1"><tspan x="32.4">CED_ID_CONTRATTO</tspan><tspan x="281.4">VARCHAR2 (10 Byte)</tspan></text>
<use href="#ix" x="22.4" y="111.2"/>
<text class="t" y="114.9"><tspan x="32.4">CED_ID_EMETTITORE</tspan><tspan x="281.4">VARCHAR2 (10 Byte)</tspan><tspan x="486.4">(AK0,IX1)</tspan></text>
<text class="t" y="129.7"><tspan x="32.4">CED_ID_PV</tspan><tspan x="281.4">VARCHAR2 (10 Byte)</tspan></text>
<text class="t" y="144.5"><tspan x="32.4">CED_DTINS</tspan><tspan x="281.4">DATE</tspan></text>
<text class="t" y="159.3"><tspan x="32.4">CED_USER_INS</tspan><tspan x="281.4">VARCHAR2 (20 Byte)</tspan></text>
<text class="t" y="174.1"><tspan x="32.4">CED_DTAGG</tspan><tspan x="281.4">DATE</tspan></text>
<text class="t" y="188.9"><tspan x="32.4">CED_USER_AGG</tspan><tspan x="281.4">VARCHAR2 (20 Byte)</tspan></text>
<text class="t" y="203.7"><tspan x="32.4">VERSION</tspan><tspan x="281.4">NUMBER</tspan></text>
<text class="t" y="218.5"><tspan x="32.4">CED_SOTTOCATEGORIA</tspan><tspan x="281.4">VARCHAR2 (30 Byte)</tspan></text>
</g>

<g id="t-anagrafica-emettitori" transform="translate(4692,1050)">
<rect class="sh" x="4" y="4" width="507.2" height="164.5"/><rect class="bx" width="507.2" height="164.5"/><rect class="hd" x=".7" y=".7" width="505.8" height="14.3"/><path class="ln" d="M0 15H507.2"/>
<text class="t m" x="253.6" y="11.3">ANAGRAFICA_EMETTITORI</text>
<use href="#kr" x="8" y="22.4"/><use href="#ix" x="22" y="22.4"/>
<text class="t r" y="26.1"><tspan x="35">AE_EMETTITORE_KEY</tspan><tspan x="192">NUMBER</tspan><tspan x="346.5">NN</tspan><tspan x="368.8">(PK)</tspan><tspan x="403.9">(IX1)</tspan></text>
<use href="#ix" x="22" y="37.2"/>
<text class="t" y="40.9"><tspan x="35">AE_ID_EMETTITORE</tspan><tspan x="192">VARCHAR2 (10 Byte)</tspan><tspan x="403.9">(AK1,IX2)</tspan></text>
<use href="#kr" x="8" y="52"/><use href="#ix" x="22" y="52"/>
<text class="t r" y="55.7"><tspan x="35">AE_SOC_CODICE</tspan><tspan x="192">NUMBER</tspan><tspan x="346.5">NN</tspan><tspan x="368.8">(PK)</tspan><tspan x="403.9">(IX1)</tspan></text>
<text class="t" y="70.5"><tspan x="35">AE_COD_EMETTITORE</tspan><tspan x="192">VARCHAR2 (100 Byte)</tspan></text>
<text class="t" y="85.3"><tspan x="35">AE_DESCRIZIONE</tspan><tspan x="192">VARCHAR2 (1000 Byte)</tspan></text>
<text class="t" y="100.1"><tspan x="35">AE_STATO</tspan><tspan x="192">VARCHAR2 (3 Byte)</tspan></text>
<text class="t" y="114.9"><tspan x="35">AE_DTINS</tspan><tspan x="192">DATE</tspan></text>
<text class="t" y="129.7"><tspan x="35">AE_DTAGG</tspan><tspan x="192">DATE</tspan></text>
<text class="t" y="144.5"><tspan x="35">VERSION</tspan><tspan x="192">NUMBER</tspan></text>
<text class="t" y="159.3"><tspan x="35">AE_SOTTOCATEGORIA</tspan><tspan x="192">VARCHAR2 (30 Byte)</tspan></text>
</g>

<g id="t-anagrafica-punti-vendita" transform="translate(5540.4,1096)">
<rect class="sh" x="4" y="4" width="582" height="430.9"/><rect class="bx" width="582" height="430.9"/><rect class="hd" x=".7" y=".7" width="580.6" height="14.3"/><path class="ln" d="M0 15H582"/>
<text class="t m" x="291" y="11.3">ANAGRAFICA_PUNTI_VENDITA</text>
<use href="#kb" x="8.3" y="22.4"/><use href="#ix" x="22.3" y="22.4"/>
<text class="t b" y="26.1"><tspan x="33.2">APV_SOC_CODICE</tspan><tspan x="222.9">NUMBER</tspan><tspan x="369.6">NN</tspan><tspan x="392.6">(PFK)</tspan><tspan x="433">(AK0,IX1)</tspan></text>
<use href="#kr" x="8.3" y="37.2"/><use href="#ix" x="22.3" y="37.2"/>
<text class="t r" y="40.9"><tspan x="33.2">APV_PUNTO_VENDITA_KEY</tspan><tspan x="222.9">NUMBER</tspan><tspan x="369.6">NN</tspan><tspan x="392.6">(PK)</tspan><tspan x="433">(IX1)</tspan></text>
<use href="#ix" x="22.3" y="52"/>
<text class="t" y="55.7"><tspan x="33.2">APV_ID_PV</tspan><tspan x="222.9">VARCHAR2 (10 Byte)</tspan><tspan x="369.6">NN</tspan><tspan x="433">(AK0,IX2)</tspan></text>
<use href="#kg" x="8.3" y="66.8"/>
<text class="t g" y="70.5"><tspan x="33.2">APV_ACCOUNT_KEY</tspan><tspan x="222.9">NUMBER</tspan><tspan x="392.6">(FK)</tspan></text>
<text class="t" y="85.3"><tspan x="33.2">APV_STATO</tspan><tspan x="222.9">VARCHAR2 (20 Byte)</tspan><tspan x="369.6">NN</tspan></text>
<text class="t" y="100.1"><tspan x="33.2">APV_INSEGNA</tspan><tspan x="222.9">VARCHAR2 (200 Byte)</tspan></text>
<text class="t" y="114.9"><tspan x="33.2">APV_INDIRIZZO</tspan><tspan x="222.9">VARCHAR2 (200 Byte)</tspan></text>
<text class="t" y="129.7"><tspan x="33.2">APV_NUMERO_CIVICO</tspan><tspan x="222.9">VARCHAR2 (60 Byte)</tspan></text>
<text class="t" y="144.5"><tspan x="33.2">APV_CAP</tspan><tspan x="222.9">VARCHAR2 (10 Byte)</tspan></text>
<text class="t" y="159.3"><tspan x="33.2">APV_COMUNE</tspan><tspan x="222.9">VARCHAR2 (60 Byte)</tspan></text>
<text class="t" y="174.1"><tspan x="33.2">APV_PROVINCIA</tspan><tspan x="222.9">VARCHAR2 (2 Byte)</tspan></text>
<text class="t" y="188.9"><tspan x="33.2">APV_DUG_NOR</tspan><tspan x="222.9">VARCHAR2 (20 Byte)</tspan></text>
<text class="t" y="203.7"><tspan x="33.2">APV_INDIRIZZO_NOR</tspan><tspan x="222.9">VARCHAR2 (200 Byte)</tspan></text>
<text class="t" y="218.5"><tspan x="33.2">APV_NUMERO_CIVICO_NOR</tspan><tspan x="222.9">VARCHAR2 (60 Byte)</tspan></text>
<text class="t" y="233.3"><tspan x="33.2">APV_CAP_NOR</tspan><tspan x="222.9">VARCHAR2 (10 Byte)</tspan></text>
<text class="t" y="248.1"><tspan x="33.2">APV_COMUNE_NOR</tspan><tspan x="222.9">VARCHAR2 (60 Byte)</tspan></text>
<text class="t" y="262.9"><tspan x="33.2">APV_PROVINCIA_NOR</tspan><tspan x="222.9">VARCHAR2 (2 Byte)</tspan></text>
<text class="t" y="277.7"><tspan x="33.2">APV_NON_NORMALIZZATO</tspan><tspan x="222.9">NUMBER (1)</tspan></text>
<text class="t" y="292.5"><tspan x="33.2">APV_LONGITUDINE</tspan><tspan x="222.9">NUMBER (15,10)</tspan></text>
<text class="t" y="307.3"><tspan x="33.2">APV_LATITUDINE</tspan><tspan x="222.9">NUMBER (15,10)</tspan></text>
<text class="t" y="322.1"><tspan x="33.2">APV_GEO</tspan><tspan x="222.9">VARCHAR2 (50 Byte)</tspan></text>
<text class="t" y="336.9"><tspan x="33.2">APV_DTINS</tspan><tspan x="222.9">DATE</tspan></text>
<text class="t" y="351.7"><tspan x="33.2">APV_USER_INS</tspan><tspan x="222.9">VARCHAR2 (50 Byte)</tspan></text>
<text class="t" y="366.5"><tspan x="33.2">APV_DTAGG</tspan><tspan x="222.9">DATE</tspan></text>
<text class="t" y="381.3"><tspan x="33.2">APV_USER_AGG</tspan><tspan x="222.9">VARCHAR2 (50 Byte)</tspan></text>
<text class="t" y="396.1"><tspan x="33.2">VERSION</tspan><tspan x="222.9">NUMBER</tspan></text>
<text class="t" y="410.9"><tspan x="33.2">APV_FRAZIONE</tspan><tspan x="222.9">VARCHAR2 (60 Byte)</tspan></text>
<text class="t" y="425.7"><tspan x="33.2">APV_FRAZIONE_NOR</tspan><tspan x="222.9">VARCHAR2 (60 Byte)</tspan></text>
</g>
</svg>
